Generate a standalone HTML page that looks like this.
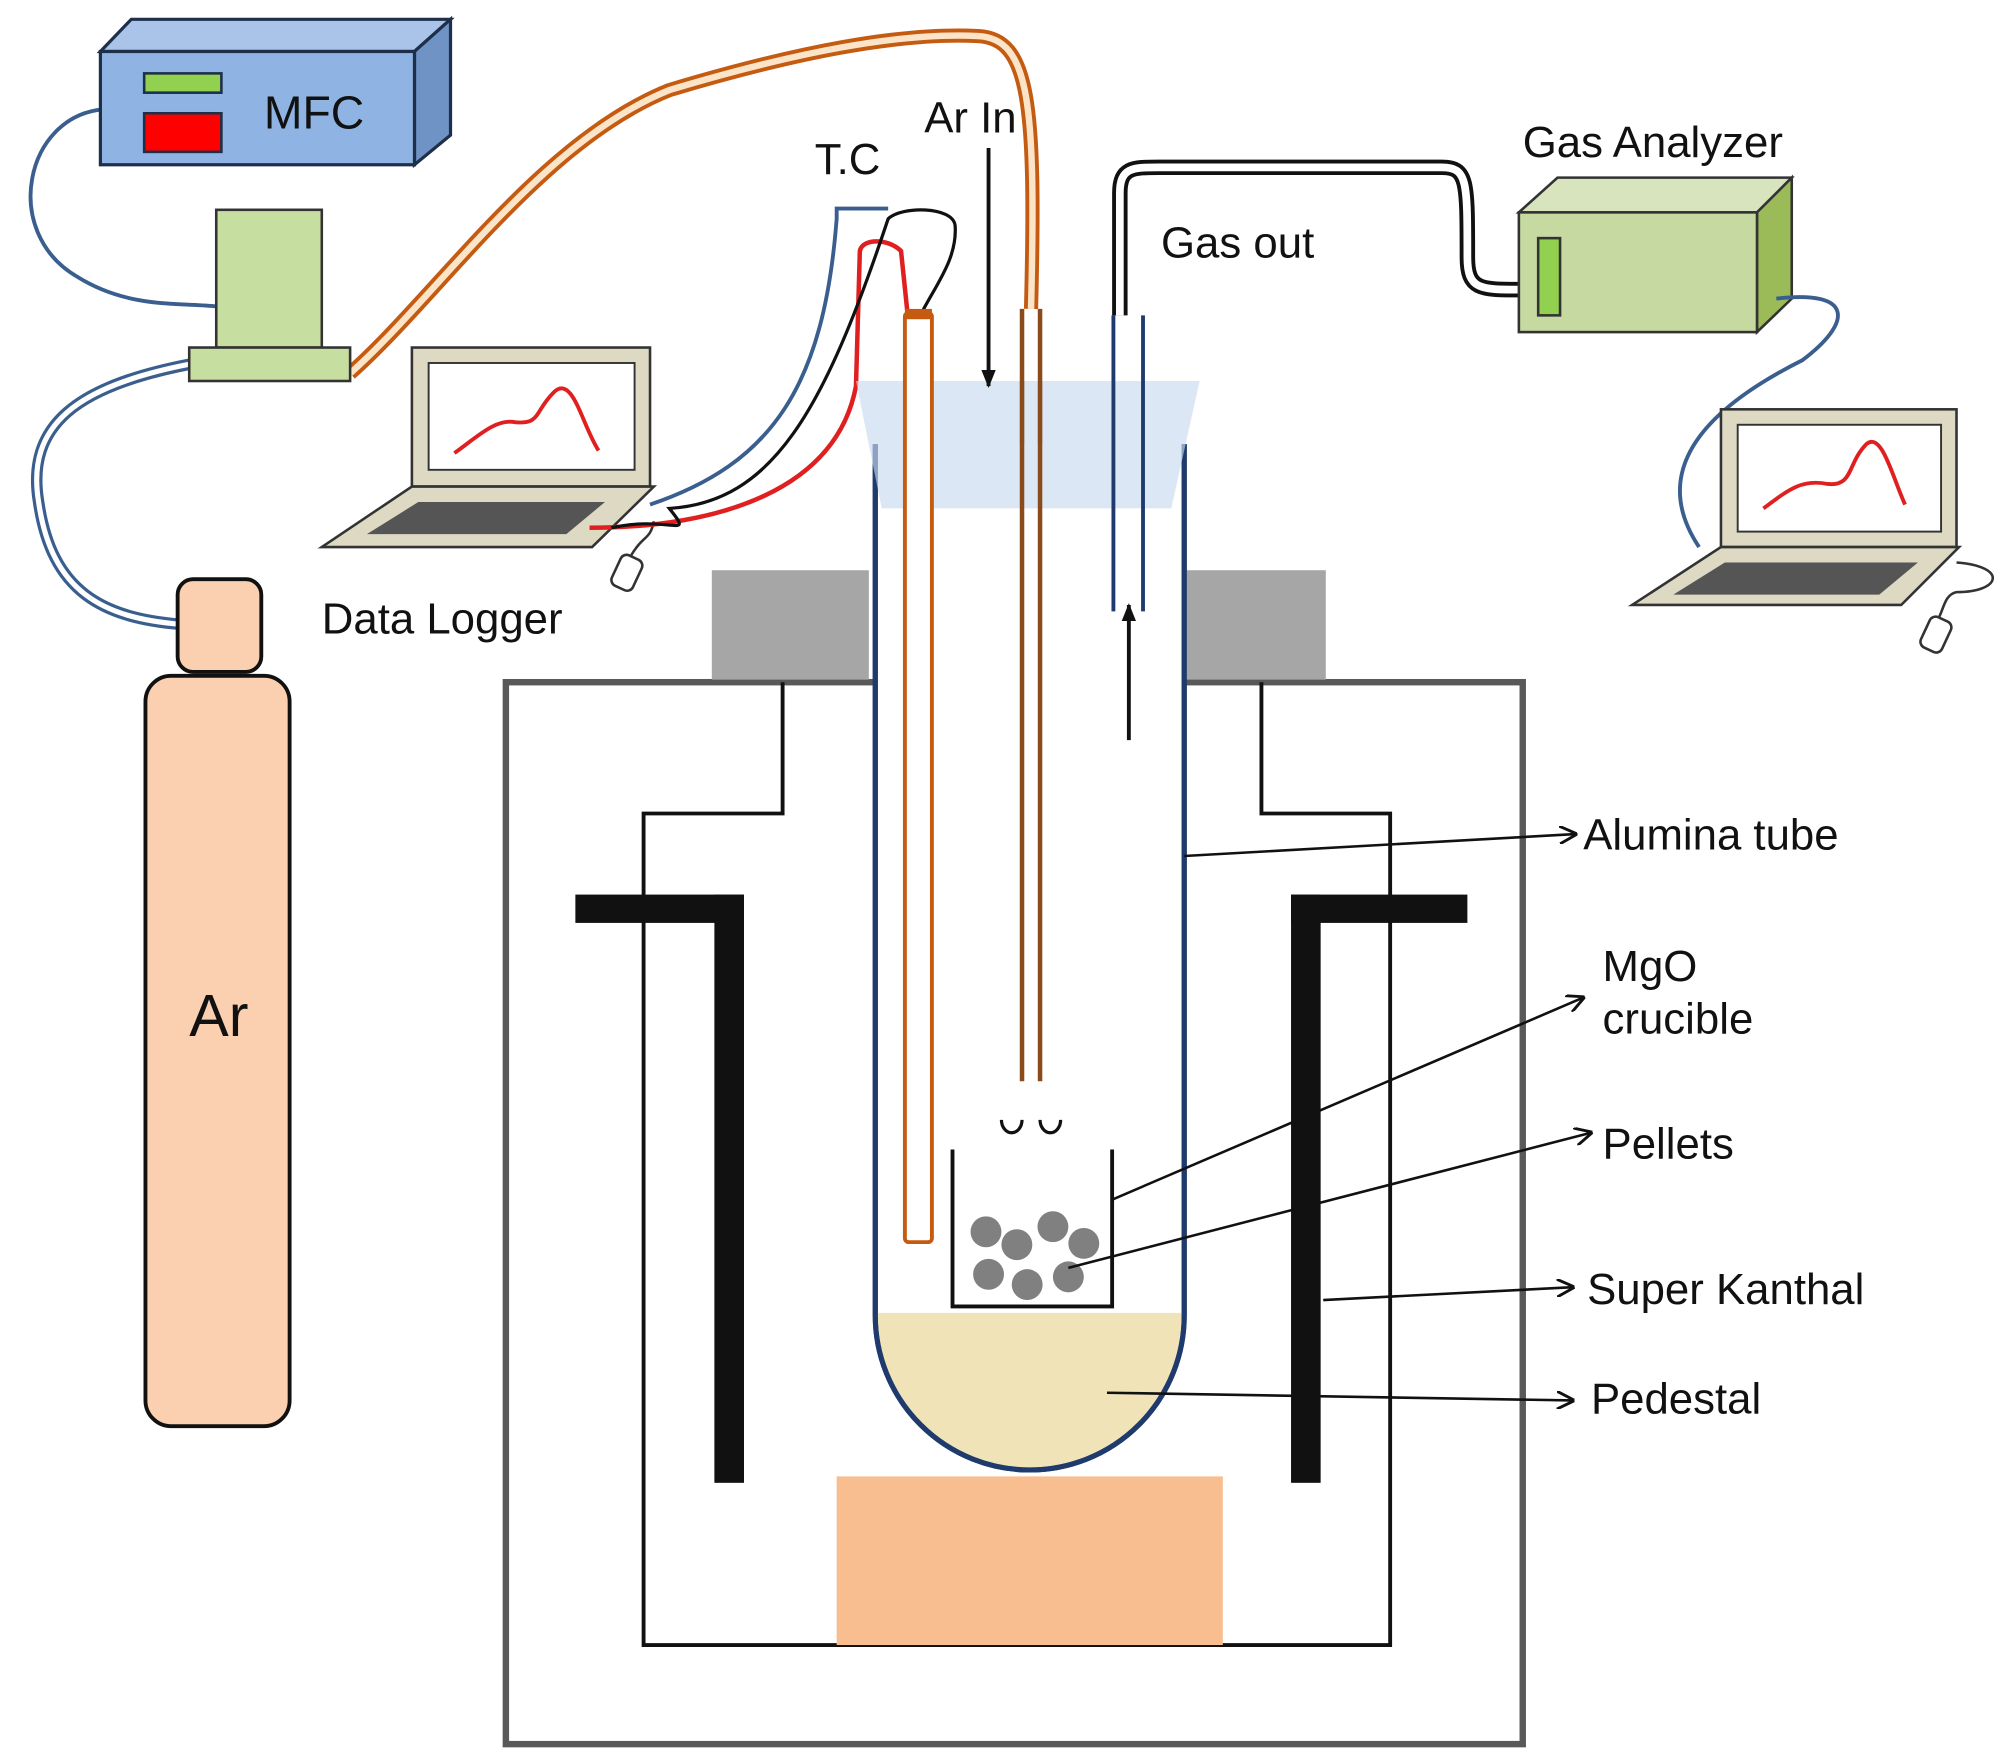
<!DOCTYPE html>
<html><head><meta charset="utf-8"><style>
html,body{margin:0;padding:0;background:#fff;}
svg{display:block;}
text{font-family:"Liberation Sans",sans-serif;fill:#111;}
</style></head><body>
<svg width="2008" height="1757" viewBox="0 0 1560 1365" preserveAspectRatio="none" xmlns="http://www.w3.org/2000/svg">
<defs>
<marker id="ah" viewBox="0 0 10 10" refX="9" refY="5" markerWidth="14" markerHeight="14" orient="auto" markerUnits="userSpaceOnUse"><path d="M0,0 L10,5 L0,10" fill="none" stroke="#111" stroke-width="1.6"/></marker>
<marker id="af" viewBox="0 0 10 10" refX="9" refY="5" markerWidth="14" markerHeight="14" orient="auto" markerUnits="userSpaceOnUse"><path d="M0,1 L10,5 L0,9 Z" fill="#111"/></marker>
</defs>

<path d="M80,85 C20,90 0,180 60,215 C100,240 140,235 168,238" fill="none" stroke="#3a5f8f" stroke-width="3"/>
<path d="M147,283 C60,300 20,330 30,390 C40,460 80,480 140,485" fill="none" stroke="#3a5f8f" stroke-width="9"/>
<path d="M147,283 C60,300 20,330 30,390 C40,460 80,480 140,485" fill="none" stroke="#fff" stroke-width="4"/>

<polygon points="78,40 102,15 350,15 322,40" fill="#a9c4e8" stroke="#1e2f4a" stroke-width="2.5"/>
<polygon points="322,40 350,15 350,105 322,128" fill="#6f93c4" stroke="#1e2f4a" stroke-width="2.5"/>
<rect x="78" y="40" width="244" height="88" fill="#8fb4e3" stroke="#1e2f4a" stroke-width="2.5"/>
<rect x="112" y="57" width="60" height="15" fill="#92d050" stroke="#1e2f4a" stroke-width="2"/>
<rect x="112" y="88" width="60" height="30" fill="#ff0000" stroke="#1e2f4a" stroke-width="2"/>
<text x="205" y="100" font-size="36">MFC</text>

<path d="M272,290 C340,230 420,110 520,70 C620,40 700,25 760,28 C800,30 805,80 801,240" fill="none" stroke="#c55a11" stroke-width="11"/>
<path d="M272,290 C340,230 420,110 520,70 C620,40 700,25 760,28 C800,30 805,80 801,240" fill="none" stroke="#fce4c8" stroke-width="5"/>
<line x1="794" y1="240" x2="794" y2="840" stroke="#8b4a1a" stroke-width="3.5"/>
<line x1="808" y1="240" x2="808" y2="840" stroke="#8b4a1a" stroke-width="3.5"/>

<rect x="168" y="163" width="82" height="107" fill="#c6dfa0" stroke="#333" stroke-width="2"/>
<rect x="147" y="270" width="125" height="26" fill="#c6dfa0" stroke="#333" stroke-width="2"/>

<rect x="138" y="450" width="65" height="72" rx="12" fill="#fbd0b0" stroke="#111" stroke-width="3"/>
<rect x="113" y="525" width="112" height="583" rx="20" fill="#fbd0b0" stroke="#111" stroke-width="3"/>
<text x="170" y="805" font-size="46" text-anchor="middle">Ar</text>

<rect x="320" y="270" width="185" height="108" fill="#ddd9c3" stroke="#333" stroke-width="2"/>
<rect x="333" y="282" width="160" height="83" fill="#fff" stroke="#333" stroke-width="1.5"/>
<path d="M353,352 C370,340 385,325 400,328 C420,330 415,320 430,305 C445,290 452,330 465,350" fill="none" stroke="#e02020" stroke-width="3"/>
<polygon points="250,425 320,378 508,378 460,425" fill="#ddd9c3" stroke="#333" stroke-width="2"/>
<polygon points="285,415 325,390 470,390 440,415" fill="#555"/>
<rect x="478" y="432" width="18" height="26" rx="5" fill="#fff" stroke="#333" stroke-width="2" transform="rotate(25 487 445)"/>
<path d="M490,432 C500,415 505,420 508,405" fill="none" stroke="#333" stroke-width="2"/>
<text x="250" y="492" font-size="34">Data Logger</text>

<path d="M505,392 C600,360 640,300 650,170 L650,162 L690,162" fill="none" stroke="#3a5f8f" stroke-width="3"/>
<path d="M458,410 C560,410 650,380 665,300 L668,195 C670,185 690,185 700,195 L705,243" fill="none" stroke="#e02020" stroke-width="3.5"/>
<path d="M475,410 C520,400 540,420 520,395 C600,390 640,320 690,170 C700,160 740,160 742,175 C744,200 728,220 716,243" fill="none" stroke="#111" stroke-width="2.5"/>
<text x="633" y="135" font-size="34">T.C</text>

<path d="M870,245 L870,150 C870,130 880,130 900,130 L1120,130 C1140,130 1140,140 1140,200 C1140,225 1150,225 1180,225" fill="none" stroke="#111" stroke-width="12"/>
<path d="M870,245 L870,150 C870,130 880,130 900,130 L1120,130 C1140,130 1140,140 1140,200 C1140,225 1150,225 1180,225" fill="none" stroke="#fff" stroke-width="6"/>
<text x="902" y="200" font-size="34">Gas out</text>

<polygon points="1180,165 1210,138 1392,138 1365,165" fill="#d7e4bd" stroke="#333" stroke-width="2"/>
<polygon points="1365,165 1392,138 1392,232 1365,258" fill="#9bbb59" stroke="#333" stroke-width="2"/>
<rect x="1180" y="165" width="185" height="93" fill="#c6d9a0" stroke="#333" stroke-width="2"/>
<rect x="1195" y="185" width="17" height="60" fill="#92d050" stroke="#333" stroke-width="2"/>
<text x="1183" y="122" font-size="34">Gas Analyzer</text>
<path d="M1380,232 C1440,225 1440,250 1400,280 C1300,330 1290,380 1320,425" fill="none" stroke="#3a5f8f" stroke-width="3"/>

<rect x="1337" y="318" width="183" height="107" fill="#ddd9c3" stroke="#333" stroke-width="2"/>
<rect x="1350" y="330" width="158" height="83" fill="#fff" stroke="#333" stroke-width="1.5"/>
<path d="M1370,395 C1390,380 1400,372 1420,376 C1440,378 1435,360 1450,345 C1462,335 1470,370 1480,392" fill="none" stroke="#e02020" stroke-width="3"/>
<polygon points="1268,470 1337,425 1522,425 1477,470" fill="#ddd9c3" stroke="#333" stroke-width="2"/>
<polygon points="1300,462 1340,437 1490,437 1460,462" fill="#555"/>
<path d="M1520,437 C1560,440 1555,460 1520,460 C1510,462 1510,475 1505,482" fill="none" stroke="#333" stroke-width="2"/>
<rect x="1495" y="480" width="18" height="26" rx="5" fill="#fff" stroke="#333" stroke-width="2" transform="rotate(25 1504 493)"/>

<rect x="393" y="530" width="790" height="825" fill="none" stroke="#595959" stroke-width="5"/>
<rect x="553" y="443" width="122" height="85" fill="#a6a6a6"/>
<rect x="922" y="443" width="108" height="85" fill="#a6a6a6"/>
<path d="M608,530 L608,632 L500,632 L500,1278 L1080,1278 L1080,632 L980,632 L980,530" fill="none" stroke="#111" stroke-width="3"/>
<rect x="650" y="1147" width="300" height="131" fill="#f8be90"/>
<rect x="447" y="695" width="131" height="22" fill="#111"/>
<rect x="555" y="695" width="23" height="457" fill="#111"/>
<rect x="1003" y="695" width="137" height="22" fill="#111"/>
<rect x="1003" y="695" width="23" height="457" fill="#111"/>

<path d="M680,345 L680,1022 A120,120 0 0 0 920,1022 L920,345" fill="#fff" stroke="#1f3b6e" stroke-width="4"/>
<path d="M682,1020 L918,1020 L918,1022 A118,118 0 0 1 682,1022 Z" fill="#f0e3b8"/>
<path d="M680,345 L680,1022 A120,120 0 0 0 920,1022 L920,345" fill="none" stroke="#1f3b6e" stroke-width="4"/>

<polygon points="665,296 932,296 910,395 685,395" fill="#c9daf0" fill-opacity="0.65"/>

<rect x="703" y="243" width="21" height="722" rx="3" fill="#fff" stroke="#c55a11" stroke-width="3"/>
<rect x="703" y="240" width="21" height="8" fill="#c55a11"/>
<line x1="794" y1="296" x2="794" y2="840" stroke="#8b4a1a" stroke-width="3.5"/>
<line x1="808" y1="296" x2="808" y2="840" stroke="#8b4a1a" stroke-width="3.5"/>
<text x="718" y="103" font-size="34">Ar In</text>
<line x1="768" y1="115" x2="768" y2="300" stroke="#111" stroke-width="3" marker-end="url(#af)"/>

<line x1="865" y1="245" x2="865" y2="475" stroke="#1f3b6e" stroke-width="3"/>
<line x1="888" y1="245" x2="888" y2="475" stroke="#1f3b6e" stroke-width="3"/>
<line x1="877" y1="575" x2="877" y2="470" stroke="#111" stroke-width="3" marker-end="url(#af)"/>

<path d="M778,870 A8,10 0 0 0 794,870 M808,870 A8,10 0 0 0 824,870" fill="none" stroke="#111" stroke-width="2.5"/>
<path d="M740,893 L740,1015 L864,1015 L864,893" fill="none" stroke="#111" stroke-width="3"/>
<g fill="#808080">
<circle cx="766" cy="957" r="12"/><circle cx="790" cy="967" r="12"/><circle cx="818" cy="953" r="12"/><circle cx="842" cy="966" r="12"/>
<circle cx="768" cy="990" r="12"/><circle cx="798" cy="998" r="12"/><circle cx="830" cy="992" r="12"/>
</g>

<line x1="920" y1="665" x2="1224" y2="648" stroke="#111" stroke-width="2" marker-end="url(#ah)"/>
<text x="1230" y="660" font-size="34">Alumina tube</text>
<line x1="864" y1="932" x2="1230" y2="775" stroke="#111" stroke-width="2" marker-end="url(#ah)"/>
<text x="1245" y="762" font-size="34">MgO</text>
<text x="1245" y="803" font-size="34">crucible</text>
<line x1="830" y1="985" x2="1236" y2="880" stroke="#111" stroke-width="2" marker-end="url(#ah)"/>
<text x="1245" y="900" font-size="34">Pellets</text>
<line x1="1028" y1="1010" x2="1222" y2="1000" stroke="#111" stroke-width="2" marker-end="url(#ah)"/>
<text x="1233" y="1013" font-size="34">Super Kanthal</text>
<line x1="860" y1="1082" x2="1222" y2="1088" stroke="#111" stroke-width="2" marker-end="url(#ah)"/>
<text x="1236" y="1098" font-size="34">Pedestal</text>
</svg>
</body></html>
